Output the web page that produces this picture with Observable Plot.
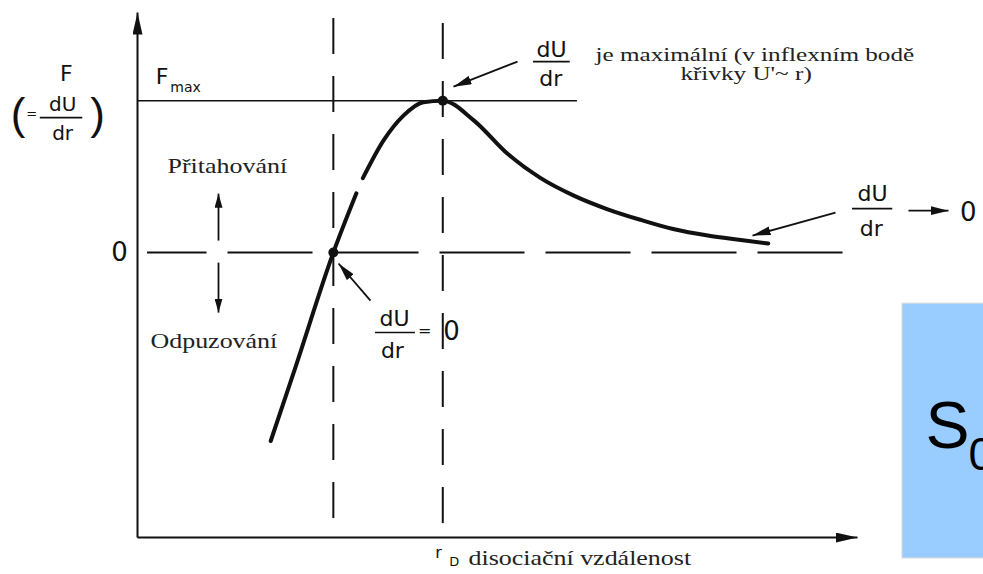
<!DOCTYPE html>
<html>
<head>
<meta charset="utf-8">
<script src="https://cdn.jsdelivr.net/npm/d3@7"></script>
<script src="https://cdn.jsdelivr.net/npm/@observablehq/plot@0.6"></script>
<style>
  html, body { margin: 0; padding: 0; background: #fff; overflow: hidden; }
  #chart svg { display: block; }
</style>
</head>
<body>
<div id="chart"></div>
<script>
// Interatomic force F = dU/dr against separation r (arbitrary units, Fmax = 1)
const separation = [1.85, 2.19, 2.72, 3.04, 3.08, 3.13, 3.42, 3.69, 3.97, 4.24, 4.67, 5.14, 5.60, 6.06, 6.53, 6.99, 7.44, 7.92, 8.38, 8.76];
const force      = [-1.24, -0.76, 0, 0.39, null, 0.49, 0.74, 0.90, 0.99, 1.00, 0.87, 0.65, 0.49, 0.375, 0.285, 0.215, 0.155, 0.112, 0.083, 0.06];

const zeroForceR = 2.72;   // dU/dr = 0 (equilibrium)
const maxForceR  = 4.24;   // r_D, dissociation distance (dU/dr maximal)
const maxForce   = 1;      // F_max

// Axis extents
const rExtent = [0, 10];
const fExtent = [-1.875, 1.58];

const curve = separation.map((r, i) => ({r, F: force[i]}));
const specialPoints = [
  {r: zeroForceR, F: 0},
  {r: maxForceR, F: maxForce}
];

const ink = "#111";
const sans = "DejaVu Sans, Liberation Sans, sans-serif";
const serif = "Liberation Serif, Times New Roman, serif";

// Arrow shafts; heads are attached below as SVG markers
const axisLines = [
  {x1: rExtent[0], y1: fExtent[0], x2: rExtent[0], y2: fExtent[1]},
  {x1: rExtent[0], y1: fExtent[0], x2: rExtent[1], y2: fExtent[0]}
];
const pointers = [
  {x1: 5.278, y1: 1.257, x2: 4.389, y2: 1.092},
  {x1: 3.236, y1: -0.316, x2: 2.792, y2: -0.072},
  {x1: 9.694, y1: 0.263, x2: 8.542, y2: 0.112},
  {x1: 10.708, y1: 0.276, x2: 11.264, y2: 0.276}
];
const directionArrows = [
  {x1: 1.125, y1: 0.079, x2: 1.125, y2: 0.388},
  {x1: 1.125, y1: -0.066, x2: 1.125, y2: -0.395}
];

// Fraction bars of the dU/dr labels
const fractionBars = [
  {y: 0.888, x1: -1.35, x2: -0.76},
  {y: 1.257, x1: 5.50, x2: 6.01},
  {y: 0.289, x1: 9.93, x2: 10.49},
  {y: -0.526, x1: 3.306, x2: 3.861}
];

const sansLabels = [
  {t: "F", x: -0.99, y: 1.178, s: 22},
  {t: "=", x: -1.47, y: 0.915, s: 13},
  {t: "dU", x: -1.04, y: 0.974, s: 20},
  {t: "dr", x: -1.04, y: 0.783, s: 20},
  {t: "F", x: 0.34, y: 1.158, s: 22},
  {t: "max", x: 0.667, y: 1.086, s: 14},
  {t: "0", x: -0.25, y: 0, s: 26},
  {t: "dU", x: 5.75, y: 1.336, s: 22},
  {t: "dr", x: 5.74, y: 1.145, s: 22},
  {t: "dU", x: 10.21, y: 0.388, s: 22},
  {t: "dr", x: 10.19, y: 0.158, s: 22},
  {t: "0", x: 11.54, y: 0.263, s: 26},
  {t: "dU", x: 3.57, y: -0.44, s: 22},
  {t: "dr", x: 3.54, y: -0.645, s: 22},
  {t: "=", x: 3.99, y: -0.513, s: 16},
  {t: "0", x: 4.36, y: -0.52, s: 26},
  {t: "r", x: 4.18, y: -1.974, s: 16},
  {t: "D", x: 4.40, y: -2.033, s: 13}
];
const parens = [
  {t: "(", x: -1.66, y: 0.908},
  {t: ")", x: -0.556, y: 0.908}
];

const serifLabels = [
  {t: "Přitahování", x: 0.417, y: 0.572},
  {t: "Odpuzování", x: 0.18, y: -0.579},
  {t: "disociační vzdálenost", x: 4.597, y: -2.007}
];
const serifNote = [
  {t: "je maximální (v inflexním bodě", x: 6.36, y: 1.297},
  {t: "křivky U'~ r)", x: 7.54, y: 1.175}
];

const chart = Plot.plot({
  width: 983,
  height: 574,
  marginLeft: 137,
  marginRight: 126,
  marginTop: 12,
  marginBottom: 37,
  x: {domain: rExtent, axis: null},
  y: {domain: fExtent, axis: null},
  style: {background: "white", overflow: "hidden"},
  marks: [
    // Slide panel on the right
    Plot.rect([0], {x1: 10.625, x2: 12.5, y1: -2.013, y2: -0.336, fill: "#99ccff", stroke: "#dcdcdc", strokeWidth: 1}),
    Plot.text(["S"], {x: 10.944, y: -1.145, text: d => d, textAnchor: "start", fontSize: 66, fontFamily: "Liberation Sans, Arial, sans-serif", fill: "#000"}),
    Plot.text(["0"], {x: 11.54, y: -1.336, text: d => d, textAnchor: "start", fontSize: 46, fontFamily: "Liberation Sans, Arial, sans-serif", fill: "#000"}),

    // F_max level
    Plot.ruleY([maxForce], {x1: 0, x2: 6.11, stroke: ink, strokeWidth: 1.5}),
    // F = 0 level
    Plot.ruleY([0], {x1: 0.139, x2: 9.97, stroke: ink, strokeWidth: 2, strokeDasharray: "85,21", strokeDashoffset: 25.5}),
    // Vertical guides at equilibrium and at r_D
    Plot.ruleX([zeroForceR], {y1: 1.54, y2: fExtent[0], stroke: ink, strokeWidth: 2, strokeDasharray: "36,22"}),
    Plot.ruleX([maxForceR], {y1: 1.507, y2: fExtent[0], stroke: ink, strokeWidth: 2, strokeDasharray: "36,22"}),

    // Force curve
    Plot.line(curve, {x: "r", y: "F", curve: "monotone-x", stroke: ink, strokeWidth: 4, strokeLinecap: "round"}),
    Plot.dot(specialPoints, {x: "r", y: "F", r: 5, fill: ink, stroke: null}),

    // Axes, pointers and direction arrows
    Plot.link(axisLines, {x1: "x1", y1: "y1", x2: "x2", y2: "y2", stroke: ink, strokeWidth: 2}),
    Plot.link(pointers, {x1: "x1", y1: "y1", x2: "x2", y2: "y2", stroke: ink, strokeWidth: 1.8}),
    Plot.link(directionArrows, {x1: "x1", y1: "y1", x2: "x2", y2: "y2", stroke: ink, strokeWidth: 1.8}),

    // Labels
    Plot.ruleY(fractionBars, {y: "y", x1: "x1", x2: "x2", stroke: ink, strokeWidth: 1.6}),
    Plot.text(sansLabels, {x: "x", y: "y", text: "t", fontSize: "s", fontFamily: sans, fill: ink, textAnchor: "middle"}),
    Plot.text(parens, {x: "x", y: "y", text: "t", fontSize: 44, fontFamily: "Liberation Sans, Arial, sans-serif", fill: ink, textAnchor: "middle", ariaLabel: "paren"}),
    Plot.text(serifLabels, {x: "x", y: "y", text: "t", fontSize: 22, fontFamily: serif, fill: "#222", textAnchor: "start"}),
    Plot.text(serifNote, {x: "x", y: "y", text: "t", fontSize: 18, fontFamily: serif, fill: "#222", textAnchor: "start"})
  ]
});

// Filled arrowheads for the link marks
const svg = d3.select(chart);
const defs = svg.insert("defs", ":first-child");
function arrowHead(id, len, half) {
  defs.append("marker")
    .attr("id", id)
    .attr("viewBox", `${-len} ${-half} ${len} ${2 * half}`)
    .attr("markerWidth", len)
    .attr("markerHeight", 2 * half)
    .attr("markerUnits", "userSpaceOnUse")
    .attr("orient", "auto")
    .attr("refX", 0)
    .attr("refY", 0)
    .append("path")
    .attr("d", `M0,0L${-len},${-half}L${-len},${half}Z`)
    .attr("fill", ink);
}
arrowHead("head-axis", 22, 5);
arrowHead("head-pointer", 18, 4.5);
arrowHead("head-small", 14, 4);
const linkGroups = svg.selectAll("g[aria-label='link']").nodes();
const headIds = ["head-axis", "head-pointer", "head-small"];
linkGroups.forEach((g, i) => {
  d3.select(g).selectAll("path").attr("marker-end", `url(#${headIds[i] || "head-pointer"})`);
});

// The serif lettering is set wide: stretch it horizontally about its anchor
const textGroups = svg.selectAll("g[aria-label='text']").nodes();
const stretch = new Map([[textGroups.length - 2, 1.18], [textGroups.length - 1, 1.4]]);
textGroups.forEach((g, i) => {
  if (!stretch.has(i)) return;
  d3.select(g).selectAll("text").attr("transform", function () {
    return `${this.getAttribute("transform") || ""} scale(${stretch.get(i)},1)`;
  });
});
// Thin tall parentheses
svg.selectAll("g[aria-label='paren'] text").attr("transform", function () {
  return `${this.getAttribute("transform") || ""} scale(0.8,1.05)`;
});

document.getElementById("chart").appendChild(chart);
</script>
</body>
</html>
